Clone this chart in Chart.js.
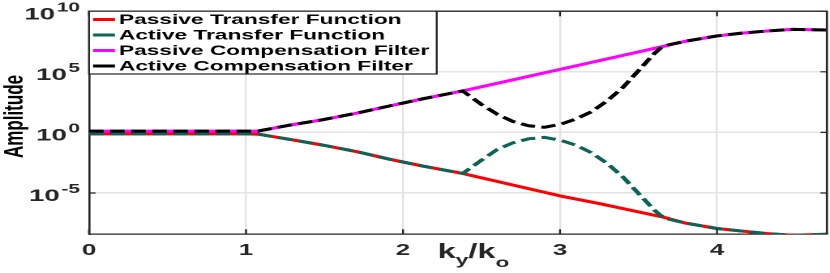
<!DOCTYPE html>
<html>
<head>
<meta charset="utf-8">
<style>
  html, body { margin: 0; padding: 0; background: #fff; overflow: hidden; }
  /* the original figure is stretched sideways, so the chart is drawn narrow and widened */
  #wrap { width: 512px; height: 273px; transform: scaleX(1.62109375); transform-origin: 0 0; }
</style>
</head>
<body>
<div id="wrap"><canvas id="myChart" width="512" height="273"></canvas></div>

<script src="https://cdn.jsdelivr.net/npm/chart.js"></script>

<script>
// k_y / k_0 and amplitude in decades (log10 of the amplitude)
const kPassive  = [0, 1.0, 1.08, 1.28, 1.49, 1.71, 1.92, 2.13, 2.38, 3.0, 3.25, 3.66, 3.79, 4.0, 4.15, 4.32, 4.48, 4.7];
const passiveTF = [-0.12, -0.12, -0.15, -0.58, -1.05, -1.6, -2.23, -2.79, -3.39, -5.24, -5.87, -7.0, -7.46, -7.93, -8.13, -8.35, -8.49, -8.4];
const passiveCF = [0.1, 0.1, 0.12, 0.6, 1.05, 1.6, 2.2, 2.78, 3.42, 5.2, 5.92, 7.1, 7.5, 7.96, 8.18, 8.37, 8.5, 8.45];

const kActive  = [0, 1.0, 1.08, 1.28, 1.49, 1.71, 1.92, 2.13, 2.38, 2.5, 2.6, 2.7, 2.8, 2.9, 3.0, 3.1, 3.2, 3.3, 3.4, 3.5, 3.6, 3.64, 3.69, 3.79, 4.0, 4.15, 4.32, 4.48, 4.7];
const activeTF = [-0.12, -0.12, -0.15, -0.58, -1.05, -1.6, -2.23, -2.79, -3.39, -2.29, -1.41, -0.86, -0.53, -0.41, -0.64, -1.05, -1.68, -2.56, -3.67, -5.04, -6.4, -6.85, -7.15, -7.46, -7.93, -8.13, -8.35, -8.49, -8.4];
const activeCF = [0.1, 0.1, 0.12, 0.6, 1.05, 1.6, 2.2, 2.78, 3.42, 2.3, 1.5, 0.9, 0.55, 0.42, 0.66, 1.1, 1.7, 2.6, 3.7, 5.1, 6.5, 6.95, 7.22, 7.5, 7.96, 8.18, 8.37, 8.5, 8.45];

const xTicks = [0, 1, 2, 3, 4];
const yTicks = [-5, 0, 5, 10];   // powers of ten
const seriesNames = ['Passive Transfer Function', 'Active Transfer Function',
                     'Passive Compensation Filter', 'Active Compensation Filter'];

const FONT = '"Liberation Sans", Arial, sans-serif';
const INK = '#262626';
const pts = (xs, ys) => xs.map((x, i) => ({ x: x, y: ys[i] }));

// box, inward ticks, 10^n labels, axis titles and the boxed legend
const decorations = {
  id: 'decorations',
  afterDraw(chart) {
    const ctx = chart.ctx;
    const a = chart.chartArea;
    const xs = chart.scales.x, ys = chart.scales.y;
    ctx.save();

    ctx.strokeStyle = INK;
    ctx.lineWidth = 1.3;
    ctx.beginPath();
    ctx.moveTo(a.left, a.top); ctx.lineTo(a.right, a.top); ctx.lineTo(a.right, a.bottom);
    ctx.stroke();

    ctx.lineWidth = 1.2;
    ctx.beginPath();
    xTicks.forEach(v => {
      const px = xs.getPixelForValue(v);
      ctx.moveTo(px, a.bottom); ctx.lineTo(px, a.bottom - 5);
      ctx.moveTo(px, a.top); ctx.lineTo(px, a.top + 5);
    });
    yTicks.forEach(v => {
      const py = ys.getPixelForValue(v);
      ctx.moveTo(a.left, py); ctx.lineTo(a.left + 4, py);
      ctx.moveTo(a.right, py); ctx.lineTo(a.right - 4, py);
    });
    ctx.stroke();

    // y tick labels as 10 with a raised exponent
    ctx.fillStyle = INK;
    ctx.textAlign = 'right';
    ctx.textBaseline = 'middle';
    yTicks.forEach(v => {
      const py = ys.getPixelForValue(v);
      const right = a.left - 5.5;
      const sup = String(v);
      ctx.font = 'bold 13px ' + FONT;
      ctx.fillText(sup, right, py - 3.5);
      const w = ctx.measureText(sup).width;
      ctx.font = 'bold 17px ' + FONT;
      ctx.fillText('10', right - w - 1, py + 3.5);
    });

    // y title
    ctx.save();
    ctx.translate(14.2, 116.5);
    ctx.rotate(-Math.PI / 2);
    ctx.textAlign = 'center';
    ctx.textBaseline = 'alphabetic';
    ctx.font = 'bold 17px ' + FONT;
    ctx.fillStyle = '#000';
    ctx.fillText('Amplitude', 0, 0);
    ctx.restore();

    // x title k_y / k_o
    ctx.textAlign = 'left';
    ctx.textBaseline = 'alphabetic';
    ctx.fillStyle = INK;
    let tx = 270;
    const part = (txt, size, base) => {
      ctx.font = 'bold ' + size + 'px ' + FONT;
      ctx.fillText(txt, tx, base);
      tx += ctx.measureText(txt).width;
    };
    part('k', 20, 258);
    part('y', 14, 264.5);
    part('/', 20, 258);
    part('k', 20, 258);
    part('o', 14, 267);

    // legend in the top left corner
    const lx = a.left, ly = a.top, lw = 214.5, lh = 62.8;
    ctx.fillStyle = '#fff';
    ctx.fillRect(lx, ly, lw, lh);
    ctx.strokeStyle = INK;
    ctx.lineWidth = 1.2;
    ctx.strokeRect(lx, ly, lw, lh);
    chart.data.datasets.forEach((ds, i) => {
      const y = ly + 8.3 + i * 15.5;
      ctx.strokeStyle = ds.borderColor;
      ctx.lineWidth = 3;
      ctx.setLineDash([]);
      ctx.beginPath();
      ctx.moveTo(lx + 2.5, y); ctx.lineTo(lx + 16, y);
      ctx.stroke();
      ctx.fillStyle = '#000';
      ctx.font = 'bold 14px ' + FONT;
      ctx.textAlign = 'left';
      ctx.textBaseline = 'middle';
      ctx.fillText(ds.label, lx + 18.5, y + 0.5);
    });

    ctx.restore();
  }
};

const ctx = document.getElementById('myChart').getContext('2d');

new Chart(ctx, {
  type: 'line',
  data: {
    datasets: [
      { label: seriesNames[0], data: pts(kPassive, passiveTF), borderColor: '#ff0000', borderWidth: 3, order: 3 },
      { label: seriesNames[1], data: pts(kActive, activeTF), borderColor: '#0b6457', borderWidth: 3, borderDash: [9, 4], order: 2 },
      { label: seriesNames[2], data: pts(kPassive, passiveCF), borderColor: '#ff00ff', borderWidth: 3, order: 1 },
      { label: seriesNames[3], data: pts(kActive, activeCF), borderColor: '#000000', borderWidth: 3, borderDash: [9, 4], order: 0 }
    ]
  },
  options: {
    responsive: false,
    animation: false,
    devicePixelRatio: 2,
    layout: { padding: { top: 11.2, right: 1.9, left: 0, bottom: 0 } },
    elements: {
      point: { radius: 0 },
      line: { tension: 0, fill: false, borderCapStyle: 'butt', borderJoinStyle: 'round' }
    },
    plugins: {
      legend: { display: false },
      tooltip: { enabled: false }
    },
    scales: {
      x: {
        type: 'linear',
        min: 0,
        max: 4.7,
        afterBuildTicks: s => { s.ticks = xTicks.map(v => ({ value: v })); },
        afterFit: s => { s.height = 38.8; },
        grid: { color: '#e3e3e3', lineWidth: 1.2, drawTicks: false },
        border: { color: INK, width: 1.3 },
        ticks: { color: INK, padding: 7, font: { family: FONT, size: 16, weight: 'bold' } }
      },
      y: {
        type: 'linear',
        min: -8.4,
        max: 10,
        afterBuildTicks: s => { s.ticks = yTicks.map(v => ({ value: v })); },
        afterFit: s => { s.width = 54.9; },
        grid: { color: '#e3e3e3', lineWidth: 1.5, drawTicks: false },
        border: { color: INK, width: 1.3 },
        ticks: { display: false }
      }
    }
  },
  plugins: [decorations]
});
</script>
</body>
</html>
